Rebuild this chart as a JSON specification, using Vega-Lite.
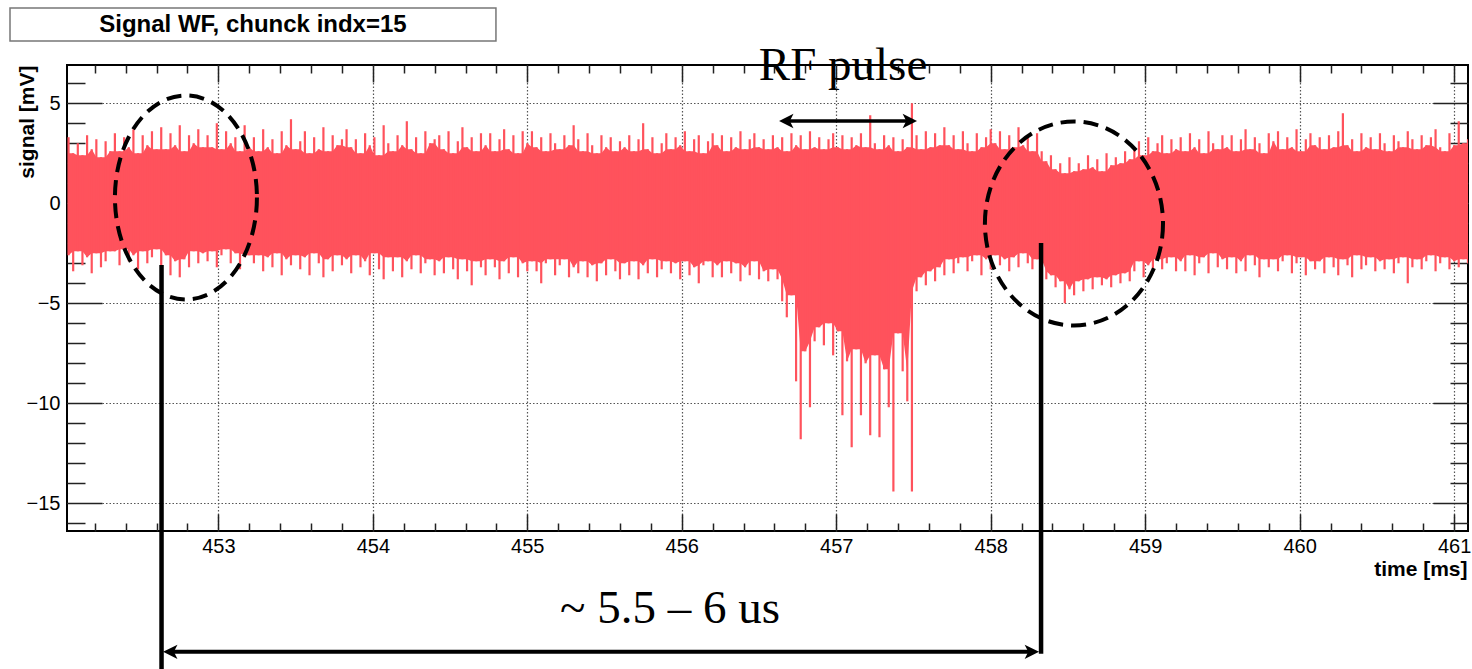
{
  "$schema": "https://vega.github.io/schema/vega-lite/v6.json",
  "width": 1401,
  "height": 466,
  "autosize": {"type": "none"},
  "padding": {"left": 67, "top": 65, "right": 4, "bottom": 138},
  "background": "white",
  "config": {
    "view": {"stroke": "black", "strokeWidth": 2},
    "axis": {
      "labelFont": "Liberation Sans", "labelFontSize": 20, "labelColor": "black",
      "titleFont": "Liberation Sans", "titleFontSize": 21, "titleFontWeight": "bold", "titleColor": "black",
      "tickColor": "#222", "tickWidth": 1.5, "labelOverlap": false, "labelFlush": false, "labelBound": false
    }
  },
  "resolve": {"axis": {"x": "independent", "y": "independent"}},
  "datasets": {
    "wave": [
      {"t":452.03,"hi":3.3,"lo":-2.6},{"t":452.06,"hi":2.5,"lo":-3.4},{"t":452.09,"hi":3.0,"lo":-2.4},{"t":452.12,"hi":2.4,"lo":-3.1},{"t":452.15,"hi":3.4,"lo":-2.7},{"t":452.18,"hi":2.7,"lo":-3.5},{"t":452.21,"hi":3.2,"lo":-2.5},{"t":452.24,"hi":2.3,"lo":-3.2},{"t":452.27,"hi":3.1,"lo":-2.9},{"t":452.30,"hi":2.6,"lo":-2.4},
      {"t":452.33,"hi":3.5,"lo":-2.4},{"t":452.36,"hi":2.6,"lo":-3.1},{"t":452.39,"hi":3.3,"lo":-2.3},{"t":452.42,"hi":2.8,"lo":-2.9},{"t":452.45,"hi":3.7,"lo":-2.6},{"t":452.48,"hi":2.5,"lo":-3.3},{"t":452.51,"hi":3.4,"lo":-2.4},{"t":452.54,"hi":2.9,"lo":-3.0},{"t":452.57,"hi":3.6,"lo":-2.7},{"t":452.60,"hi":2.7,"lo":-2.3},
      {"t":452.63,"hi":3.8,"lo":-3.3},{"t":452.66,"hi":2.7,"lo":-2.6},{"t":452.69,"hi":3.5,"lo":-3.6},{"t":452.72,"hi":2.9,"lo":-2.9},{"t":452.75,"hi":3.9,"lo":-3.7},{"t":452.78,"hi":2.6,"lo":-2.8},{"t":452.81,"hi":3.4,"lo":-3.2},{"t":452.84,"hi":3.0,"lo":-2.4},{"t":452.87,"hi":3.7,"lo":-3.0},{"t":452.90,"hi":2.8,"lo":-2.5},
      {"t":452.93,"hi":3.4,"lo":-2.9},{"t":452.96,"hi":2.8,"lo":-2.4},{"t":452.99,"hi":4.0,"lo":-3.2},{"t":453.02,"hi":2.7,"lo":-2.6},{"t":453.05,"hi":3.6,"lo":-2.3},{"t":453.08,"hi":3.0,"lo":-3.0},{"t":453.11,"hi":3.3,"lo":-2.5},{"t":453.14,"hi":2.6,"lo":-3.3},{"t":453.17,"hi":3.9,"lo":-2.7},{"t":453.20,"hi":2.8,"lo":-2.6},
      {"t":453.23,"hi":3.3,"lo":-3.0},{"t":453.26,"hi":2.6,"lo":-2.6},{"t":453.29,"hi":3.7,"lo":-3.4},{"t":453.32,"hi":2.8,"lo":-2.7},{"t":453.35,"hi":3.2,"lo":-3.2},{"t":453.38,"hi":2.5,"lo":-2.5},{"t":453.41,"hi":3.6,"lo":-3.6},{"t":453.44,"hi":2.9,"lo":-2.8},{"t":453.47,"hi":4.2,"lo":-3.1},{"t":453.50,"hi":2.7,"lo":-2.6},
      {"t":453.53,"hi":3.1,"lo":-3.3},{"t":453.56,"hi":3.6,"lo":-2.7},{"t":453.59,"hi":2.5,"lo":-3.6},{"t":453.62,"hi":3.3,"lo":-2.5},{"t":453.65,"hi":2.7,"lo":-3.0},{"t":453.68,"hi":3.8,"lo":-3.7},{"t":453.71,"hi":2.6,"lo":-2.8},{"t":453.74,"hi":3.4,"lo":-3.4},{"t":453.77,"hi":2.9,"lo":-2.6},{"t":453.80,"hi":3.2,"lo":-3.1},
      {"t":453.83,"hi":3.7,"lo":-2.8},{"t":453.86,"hi":2.8,"lo":-3.5},{"t":453.89,"hi":3.2,"lo":-2.6},{"t":453.92,"hi":2.5,"lo":-3.2},{"t":453.95,"hi":3.5,"lo":-2.9},{"t":453.98,"hi":2.9,"lo":-3.6},{"t":454.01,"hi":3.3,"lo":-2.5},{"t":454.04,"hi":2.4,"lo":-3.3},{"t":454.07,"hi":3.9,"lo":-3.8},{"t":454.10,"hi":3.0,"lo":-2.7},
      {"t":454.13,"hi":2.6,"lo":-3.4},{"t":454.16,"hi":3.4,"lo":-2.7},{"t":454.19,"hi":2.9,"lo":-3.7},{"t":454.22,"hi":4.1,"lo":-2.9},{"t":454.25,"hi":2.7,"lo":-3.3},{"t":454.28,"hi":3.3,"lo":-2.6},{"t":454.31,"hi":2.5,"lo":-3.5},{"t":454.34,"hi":3.6,"lo":-3.0},{"t":454.37,"hi":3.0,"lo":-2.8},{"t":454.40,"hi":3.2,"lo":-3.6},
      {"t":454.43,"hi":3.4,"lo":-2.9},{"t":454.46,"hi":2.7,"lo":-3.5},{"t":454.49,"hi":3.6,"lo":-2.7},{"t":454.52,"hi":2.5,"lo":-3.3},{"t":454.55,"hi":3.1,"lo":-3.8},{"t":454.58,"hi":3.8,"lo":-2.8},{"t":454.61,"hi":2.8,"lo":-3.4},{"t":454.64,"hi":3.3,"lo":-4.1},{"t":454.67,"hi":2.6,"lo":-2.9},{"t":454.70,"hi":3.5,"lo":-3.2},
      {"t":454.73,"hi":2.9,"lo":-3.6},{"t":454.76,"hi":3.5,"lo":-2.8},{"t":454.79,"hi":2.6,"lo":-3.2},{"t":454.82,"hi":3.2,"lo":-3.8},{"t":454.85,"hi":3.7,"lo":-2.9},{"t":454.88,"hi":2.7,"lo":-3.5},{"t":454.91,"hi":3.4,"lo":-2.7},{"t":454.94,"hi":2.5,"lo":-3.7},{"t":454.97,"hi":3.6,"lo":-3.0},{"t":455.00,"hi":3.0,"lo":-3.4},
      {"t":455.03,"hi":3.6,"lo":-2.9},{"t":455.06,"hi":2.8,"lo":-3.4},{"t":455.09,"hi":3.3,"lo":-4.0},{"t":455.12,"hi":2.6,"lo":-3.0},{"t":455.15,"hi":3.5,"lo":-2.8},{"t":455.18,"hi":3.0,"lo":-3.6},{"t":455.21,"hi":2.7,"lo":-3.1},{"t":455.24,"hi":3.4,"lo":-2.8},{"t":455.27,"hi":2.9,"lo":-3.7},{"t":455.30,"hi":3.9,"lo":-3.2},
      {"t":455.33,"hi":3.2,"lo":-3.5},{"t":455.36,"hi":2.6,"lo":-2.9},{"t":455.39,"hi":3.5,"lo":-3.7},{"t":455.42,"hi":2.9,"lo":-3.1},{"t":455.45,"hi":2.5,"lo":-3.9},{"t":455.48,"hi":3.4,"lo":-3.0},{"t":455.51,"hi":2.8,"lo":-3.6},{"t":455.54,"hi":3.3,"lo":-2.8},{"t":455.57,"hi":2.6,"lo":-3.4},{"t":455.60,"hi":3.1,"lo":-3.8},
      {"t":455.63,"hi":2.8,"lo":-3.0},{"t":455.66,"hi":3.4,"lo":-3.6},{"t":455.69,"hi":2.6,"lo":-2.9},{"t":455.72,"hi":3.2,"lo":-3.8},{"t":455.75,"hi":4.0,"lo":-3.1},{"t":455.78,"hi":2.7,"lo":-3.5},{"t":455.81,"hi":3.3,"lo":-2.8},{"t":455.84,"hi":2.5,"lo":-3.7},{"t":455.87,"hi":3.0,"lo":-3.3},{"t":455.90,"hi":3.5,"lo":-2.9},
      {"t":455.93,"hi":2.7,"lo":-3.5},{"t":455.96,"hi":3.3,"lo":-3.0},{"t":455.99,"hi":2.9,"lo":-3.8},{"t":456.02,"hi":3.6,"lo":-2.9},{"t":456.05,"hi":2.6,"lo":-3.6},{"t":456.08,"hi":3.2,"lo":-3.2},{"t":456.11,"hi":3.4,"lo":-4.0},{"t":456.14,"hi":2.5,"lo":-3.1},{"t":456.17,"hi":3.1,"lo":-2.9},{"t":456.20,"hi":3.5,"lo":-3.7},
      {"t":456.23,"hi":2.9,"lo":-3.1},{"t":456.26,"hi":3.4,"lo":-3.7},{"t":456.29,"hi":2.6,"lo":-2.9},{"t":456.32,"hi":3.3,"lo":-3.5},{"t":456.35,"hi":2.8,"lo":-3.0},{"t":456.38,"hi":3.6,"lo":-3.9},{"t":456.41,"hi":2.7,"lo":-3.2},{"t":456.44,"hi":3.2,"lo":-3.6},{"t":456.47,"hi":3.5,"lo":-2.9},{"t":456.50,"hi":2.8,"lo":-3.8},
      {"t":456.53,"hi":3.2,"lo":-3.4},{"t":456.56,"hi":2.7,"lo":-3.9},{"t":456.59,"hi":3.4,"lo":-3.3},{"t":456.62,"hi":2.8,"lo":-3.8},{"t":456.65,"hi":3.3,"lo":-4.9},{"t":456.68,"hi":2.6,"lo":-5.7},{"t":456.71,"hi":3.5,"lo":-4.6},{"t":456.74,"hi":2.9,"lo":-8.9},{"t":456.77,"hi":3.4,"lo":-11.8},{"t":456.80,"hi":2.7,"lo":-7.4},
      {"t":456.83,"hi":3.6,"lo":-10.2},{"t":456.86,"hi":2.8,"lo":-6.9},{"t":456.89,"hi":3.3,"lo":-6.2},{"t":456.92,"hi":2.7,"lo":-7.1},{"t":456.95,"hi":3.2,"lo":-6.0},{"t":456.98,"hi":3.5,"lo":-7.6},{"t":457.01,"hi":2.8,"lo":-6.4},{"t":457.04,"hi":3.4,"lo":-10.6},{"t":457.07,"hi":2.7,"lo":-7.9},{"t":457.10,"hi":3.3,"lo":-12.2},
      {"t":457.13,"hi":2.9,"lo":-7.3},{"t":457.16,"hi":3.5,"lo":-10.6},{"t":457.19,"hi":2.8,"lo":-8.0},{"t":457.22,"hi":4.4,"lo":-11.6},{"t":457.25,"hi":3.0,"lo":-7.6},{"t":457.28,"hi":2.7,"lo":-11.7},{"t":457.31,"hi":3.4,"lo":-8.3},{"t":457.34,"hi":2.9,"lo":-10.2},{"t":457.37,"hi":3.3,"lo":-14.4},{"t":457.40,"hi":2.6,"lo":-6.5},
      {"t":457.43,"hi":3.2,"lo":-8.4},{"t":457.46,"hi":2.8,"lo":-9.9},{"t":457.49,"hi":5.0,"lo":-14.4},{"t":457.52,"hi":3.4,"lo":-4.4},{"t":457.55,"hi":2.7,"lo":-3.7},{"t":457.58,"hi":3.6,"lo":-4.1},{"t":457.61,"hi":2.8,"lo":-3.4},{"t":457.64,"hi":3.5,"lo":-3.9},{"t":457.67,"hi":2.9,"lo":-3.2},{"t":457.70,"hi":3.8,"lo":-3.6},
      {"t":457.73,"hi":2.9,"lo":-2.8},{"t":457.76,"hi":3.4,"lo":-3.5},{"t":457.79,"hi":2.7,"lo":-3.0},{"t":457.82,"hi":3.6,"lo":-2.7},{"t":457.85,"hi":3.0,"lo":-3.4},{"t":457.88,"hi":2.6,"lo":-2.9},{"t":457.91,"hi":3.5,"lo":-2.6},{"t":457.94,"hi":2.8,"lo":-3.6},{"t":457.97,"hi":3.3,"lo":-2.8},{"t":458.00,"hi":3.7,"lo":-3.3},
      {"t":458.03,"hi":3.0,"lo":-2.6},{"t":458.06,"hi":3.6,"lo":-3.1},{"t":458.09,"hi":2.7,"lo":-2.8},{"t":458.12,"hi":3.4,"lo":-3.4},{"t":458.15,"hi":2.8,"lo":-2.7},{"t":458.18,"hi":3.8,"lo":-3.2},{"t":458.21,"hi":2.9,"lo":-2.5},{"t":458.24,"hi":3.3,"lo":-3.0},{"t":458.27,"hi":2.6,"lo":-3.3},{"t":458.30,"hi":3.5,"lo":-2.8},
      {"t":458.33,"hi":2.6,"lo":-3.4},{"t":458.36,"hi":2.1,"lo":-3.8},{"t":458.39,"hi":2.4,"lo":-3.6},{"t":458.42,"hi":1.7,"lo":-4.2},{"t":458.45,"hi":2.0,"lo":-3.9},{"t":458.48,"hi":1.5,"lo":-5.0},{"t":458.51,"hi":2.3,"lo":-4.3},{"t":458.54,"hi":1.6,"lo":-4.6},{"t":458.57,"hi":2.0,"lo":-3.9},{"t":458.60,"hi":1.7,"lo":-4.4},
      {"t":458.63,"hi":2.4,"lo":-3.8},{"t":458.66,"hi":1.8,"lo":-4.3},{"t":458.69,"hi":2.2,"lo":-3.7},{"t":458.72,"hi":1.6,"lo":-4.1},{"t":458.75,"hi":2.5,"lo":-3.8},{"t":458.78,"hi":1.9,"lo":-4.2},{"t":458.81,"hi":2.3,"lo":-3.6},{"t":458.84,"hi":2.0,"lo":-4.0},{"t":458.87,"hi":2.6,"lo":-3.5},{"t":458.90,"hi":2.2,"lo":-3.9},
      {"t":458.93,"hi":2.7,"lo":-3.4},{"t":458.96,"hi":3.1,"lo":-2.9},{"t":458.99,"hi":2.4,"lo":-3.7},{"t":459.02,"hi":3.3,"lo":-3.1},{"t":459.05,"hi":2.6,"lo":-3.5},{"t":459.08,"hi":3.0,"lo":-2.8},{"t":459.11,"hi":3.4,"lo":-3.3},{"t":459.14,"hi":2.5,"lo":-3.0},{"t":459.17,"hi":3.2,"lo":-2.7},{"t":459.20,"hi":2.7,"lo":-3.4},
      {"t":459.23,"hi":3.3,"lo":-2.9},{"t":459.26,"hi":2.6,"lo":-3.4},{"t":459.29,"hi":3.5,"lo":-2.6},{"t":459.32,"hi":2.8,"lo":-3.6},{"t":459.35,"hi":3.2,"lo":-3.0},{"t":459.38,"hi":2.5,"lo":-2.7},{"t":459.41,"hi":3.6,"lo":-3.5},{"t":459.44,"hi":3.0,"lo":-2.5},{"t":459.47,"hi":2.7,"lo":-3.2},{"t":459.50,"hi":3.4,"lo":-2.8},
      {"t":459.53,"hi":2.8,"lo":-3.3},{"t":459.56,"hi":3.4,"lo":-2.7},{"t":459.59,"hi":2.6,"lo":-3.5},{"t":459.62,"hi":3.2,"lo":-2.9},{"t":459.65,"hi":3.7,"lo":-3.4},{"t":459.68,"hi":2.7,"lo":-2.6},{"t":459.71,"hi":3.3,"lo":-3.1},{"t":459.74,"hi":3.0,"lo":-3.7},{"t":459.77,"hi":2.5,"lo":-2.8},{"t":459.80,"hi":3.5,"lo":-3.2},
      {"t":459.83,"hi":3.1,"lo":-2.8},{"t":459.86,"hi":3.6,"lo":-3.4},{"t":459.89,"hi":2.7,"lo":-2.9},{"t":459.92,"hi":3.3,"lo":-2.6},{"t":459.95,"hi":2.8,"lo":-3.5},{"t":459.98,"hi":3.7,"lo":-3.0},{"t":460.01,"hi":2.6,"lo":-2.7},{"t":460.04,"hi":3.2,"lo":-3.6},{"t":460.07,"hi":3.5,"lo":-2.9},{"t":460.10,"hi":2.9,"lo":-3.3},
      {"t":460.13,"hi":3.3,"lo":-2.9},{"t":460.16,"hi":2.7,"lo":-3.5},{"t":460.19,"hi":3.4,"lo":-2.7},{"t":460.22,"hi":2.8,"lo":-3.2},{"t":460.25,"hi":3.6,"lo":-3.6},{"t":460.28,"hi":4.5,"lo":-2.8},{"t":460.31,"hi":2.9,"lo":-3.1},{"t":460.34,"hi":3.2,"lo":-3.7},{"t":460.37,"hi":2.6,"lo":-2.6},{"t":460.40,"hi":3.5,"lo":-3.3},
      {"t":460.43,"hi":2.8,"lo":-3.1},{"t":460.46,"hi":3.3,"lo":-2.7},{"t":460.49,"hi":2.7,"lo":-3.4},{"t":460.52,"hi":3.5,"lo":-2.9},{"t":460.55,"hi":3.0,"lo":-3.3},{"t":460.58,"hi":2.6,"lo":-2.8},{"t":460.61,"hi":3.4,"lo":-3.5},{"t":460.64,"hi":3.1,"lo":-3.0},{"t":460.67,"hi":2.8,"lo":-2.7},{"t":460.70,"hi":3.6,"lo":-4.0},
      {"t":460.73,"hi":3.2,"lo":-3.2},{"t":460.76,"hi":2.7,"lo":-2.8},{"t":460.79,"hi":3.4,"lo":-3.3},{"t":460.82,"hi":2.9,"lo":-2.9},{"t":460.85,"hi":3.3,"lo":-2.6},{"t":460.88,"hi":3.7,"lo":-3.4},{"t":460.91,"hi":2.8,"lo":-3.0},{"t":460.94,"hi":2.6,"lo":-2.7},{"t":460.97,"hi":3.5,"lo":-3.3},{"t":461.00,"hi":2.9,"lo":-2.9},
      {"t":461.03,"hi":4.1,"lo":-3.2},{"t":461.06,"hi":3.0,"lo":-2.8},{"t":461.09,"hi":3.2,"lo":-3.0}
    ]
  },
  "layer": [
    {
      "data": {"name": "wave"},
      "transform": [
        {"window": [{"op": "min", "field": "hi", "as": "chi"}, {"op": "max", "field": "lo", "as": "clo"}], "frame": [-1, 1], "sort": [{"field": "t"}]}
      ],
      "mark": {"type": "area", "color": "#ff525c", "interpolate": "linear", "clip": true},
      "encoding": {
        "x": {
          "field": "t", "type": "quantitative",
          "scale": {"domain": [452.02, 461.09], "nice": false, "zero": false},
          "axis": {
            "orient": "bottom", "title": "time [ms]",
            "values": [452.2,452.4,452.6,452.8,453,453.2,453.4,453.6,453.8,454,454.2,454.4,454.6,454.8,455,455.2,455.4,455.6,455.8,456,456.2,456.4,456.6,456.8,457,457.2,457.4,457.6,457.8,458,458.2,458.4,458.6,458.8,459,459.2,459.4,459.6,459.8,460,460.2,460.4,460.6,460.8,461],
            "labelExpr": "abs(datum.value - round(datum.value)) < 0.01 ? format(datum.value, 'd') : ''",
            "tickSize": {"condition": {"test": "abs(datum.value - round(datum.value)) < 0.01", "value": -17}, "value": -8},
            "labelPadding": 22,
            "grid": true, "gridColor": "#555", "gridDash": [1.5, 2], "gridWidth": 1.2,
            "gridOpacity": {"condition": {"test": "abs(datum.value - round(datum.value)) < 0.01", "value": 1}, "value": 0},
            "domain": false,
            "titleAnchor": "end", "titleAlign": "right", "titleBaseline": "alphabetic", "titleX": 1400, "titleY": 44
          }
        },
        "y": {
          "field": "chi", "type": "quantitative",
          "scale": {"domain": [-16.38, 6.91], "nice": false, "zero": false},
          "axis": {
            "orient": "left", "title": "signal [mV]",
            "values": [-16,-15,-14,-13,-12,-11,-10,-9,-8,-7,-6,-5,-4,-3,-2,-1,0,1,2,3,4,5,6],
            "labelExpr": "datum.value % 5 === 0 ? datum.label : ''",
            "tickSize": {"condition": {"test": "datum.value % 5 === 0", "value": -35}, "value": -18},
            "labelPadding": 42,
            "grid": true, "gridColor": "#555", "gridDash": [1.5, 2], "gridWidth": 1.2,
            "gridOpacity": {"condition": {"test": "datum.value % 5 === 0", "value": 1}, "value": 0},
            "domain": false,
            "titleAnchor": "end", "titleAlign": "right", "titleBaseline": "alphabetic", "titleAngle": 270, "titleX": -34, "titleY": 0
          }
        },
        "y2": {"field": "clo"}
      }
    },
    {
      "data": {"name": "wave"},
      "mark": {"type": "rule", "color": "#ff525c", "strokeWidth": 2.2, "clip": true},
      "encoding": {
        "x": {
          "field": "t", "type": "quantitative",
          "scale": {"domain": [452.02, 461.09], "nice": false, "zero": false},
          "axis": {
            "orient": "top", "title": null, "labels": false, "grid": false, "domain": false,
            "values": [452.2,452.4,452.6,452.8,453,453.2,453.4,453.6,453.8,454,454.2,454.4,454.6,454.8,455,455.2,455.4,455.6,455.8,456,456.2,456.4,456.6,456.8,457,457.2,457.4,457.6,457.8,458,458.2,458.4,458.6,458.8,459,459.2,459.4,459.6,459.8,460,460.2,460.4,460.6,460.8,461],
            "tickSize": {"condition": {"test": "abs(datum.value - round(datum.value)) < 0.01", "value": -17}, "value": -8}
          }
        },
        "y": {
          "field": "hi", "type": "quantitative",
          "scale": {"domain": [-16.38, 6.91], "nice": false, "zero": false},
          "axis": {
            "orient": "right", "title": null, "labels": false, "grid": false, "domain": false,
            "values": [-16,-15,-14,-13,-12,-11,-10,-9,-8,-7,-6,-5,-4,-3,-2,-1,0,1,2,3,4,5,6],
            "tickSize": {"condition": {"test": "datum.value % 5 === 0", "value": -35}, "value": -18}
          }
        },
        "y2": {"field": "lo"}
      }
    },
    {
      "data": {"values": [{}]},
      "mark": {"type": "rect", "fill": "white", "stroke": "#777", "strokeWidth": 1.5},
      "encoding": {
        "x": {"datum": 451.651, "type": "quantitative", "axis": null},
        "x2": {"datum": 454.797},
        "y": {"datum": 9.76, "type": "quantitative", "axis": null},
        "y2": {"datum": 8.11}
      }
    },
    {
      "data": {"values": [{}]},
      "mark": {"type": "text", "text": "Signal WF, chunck indx=15", "font": "Liberation Sans", "fontWeight": "bold", "fontSize": 24, "align": "center", "baseline": "middle", "color": "black"},
      "encoding": {
        "x": {"datum": 453.224, "type": "quantitative", "axis": null},
        "y": {"datum": 8.91, "type": "quantitative", "axis": null}
      }
    },
    {
      "data": {"values": [{}]},
      "mark": {"type": "point", "shape": "M 0.696 0 C 0.696 0.5523 0.3844 1 0 1 C -0.3844 1 -0.696 0.5523 -0.696 0 C -0.696 -0.5523 -0.3844 -1 0 -1 C 0.3844 -1 0.696 -0.5523 0.696 0 Z", "size": 41616, "filled": false, "stroke": "black", "strokeWidth": 4, "strokeDash": [15, 8], "opacity": 1},
      "encoding": {
        "x": {"datum": 452.79, "type": "quantitative", "axis": null},
        "y": {"datum": 0.29, "type": "quantitative", "axis": null}
      }
    },
    {
      "data": {"values": [{}]},
      "mark": {"type": "point", "shape": "M 0.873 0 C 0.873 0.5523 0.4822 1 0 1 C -0.4822 1 -0.873 0.5523 -0.873 0 C -0.873 -0.5523 -0.4822 -1 0 -1 C 0.4822 -1 0.873 -0.5523 0.873 0 Z", "size": 41616, "filled": false, "stroke": "black", "strokeWidth": 4, "strokeDash": [15, 8], "opacity": 1},
      "encoding": {
        "x": {"datum": 458.539, "type": "quantitative", "axis": null},
        "y": {"datum": -1.01, "type": "quantitative", "axis": null}
      }
    },
    {
      "data": {"values": [{}]},
      "mark": {"type": "rule", "color": "black", "strokeWidth": 3.5},
      "encoding": {
        "x": {"datum": 456.68, "type": "quantitative", "axis": null},
        "x2": {"datum": 457.473},
        "y": {"datum": 4.11, "type": "quantitative", "axis": null}
      }
    },
    {
      "data": {"values": [{}]},
      "mark": {"type": "point", "shape": "M 0 0 L 1.8 -0.9 L 1.35 0 L 1.8 0.9 Z", "size": 256, "filled": true, "color": "black", "opacity": 1},
      "encoding": {
        "x": {"datum": 456.63, "type": "quantitative", "axis": null},
        "y": {"datum": 4.11, "type": "quantitative", "axis": null}
      }
    },
    {
      "data": {"values": [{}]},
      "mark": {"type": "point", "shape": "M 0 0 L -1.8 -0.9 L -1.35 0 L -1.8 0.9 Z", "size": 256, "filled": true, "color": "black", "opacity": 1},
      "encoding": {
        "x": {"datum": 457.523, "type": "quantitative", "axis": null},
        "y": {"datum": 4.11, "type": "quantitative", "axis": null}
      }
    },
    {
      "data": {"values": [{}]},
      "mark": {"type": "text", "text": "RF pulse", "font": "Liberation Serif", "fontSize": 47, "align": "center", "baseline": "alphabetic", "color": "black"},
      "encoding": {
        "x": {"datum": 457.044, "type": "quantitative", "axis": null},
        "y": {"datum": 6.16, "type": "quantitative", "axis": null}
      }
    },
    {
      "data": {"values": [{}]},
      "mark": {"type": "rule", "color": "black", "strokeWidth": 4.5},
      "encoding": {
        "x": {"datum": 452.632, "type": "quantitative", "axis": null},
        "y": {"datum": -3.08, "type": "quantitative", "axis": null},
        "y2": {"datum": -23.5}
      }
    },
    {
      "data": {"values": [{}]},
      "mark": {"type": "rule", "color": "black", "strokeWidth": 4.5},
      "encoding": {
        "x": {"datum": 458.326, "type": "quantitative", "axis": null},
        "y": {"datum": -1.99, "type": "quantitative", "axis": null},
        "y2": {"datum": -22.52}
      }
    },
    {
      "data": {"values": [{}]},
      "mark": {"type": "rule", "color": "black", "strokeWidth": 4},
      "encoding": {
        "x": {"datum": 452.69, "type": "quantitative", "axis": null},
        "x2": {"datum": 458.26},
        "y": {"datum": -22.42, "type": "quantitative", "axis": null}
      }
    },
    {
      "data": {"values": [{}]},
      "mark": {"type": "point", "shape": "M 0 0 L 1.8 -0.9 L 1.35 0 L 1.8 0.9 Z", "size": 256, "filled": true, "color": "black", "opacity": 1},
      "encoding": {
        "x": {"datum": 452.642, "type": "quantitative", "axis": null},
        "y": {"datum": -22.42, "type": "quantitative", "axis": null}
      }
    },
    {
      "data": {"values": [{}]},
      "mark": {"type": "point", "shape": "M 0 0 L -1.8 -0.9 L -1.35 0 L -1.8 0.9 Z", "size": 256, "filled": true, "color": "black", "opacity": 1},
      "encoding": {
        "x": {"datum": 458.313, "type": "quantitative", "axis": null},
        "y": {"datum": -22.42, "type": "quantitative", "axis": null}
      }
    },
    {
      "data": {"values": [{}]},
      "mark": {"type": "text", "text": "~ 5.5 – 6 us", "font": "Liberation Serif", "fontSize": 47, "align": "center", "baseline": "alphabetic", "color": "black"},
      "encoding": {
        "x": {"datum": 455.924, "type": "quantitative", "axis": null},
        "y": {"datum": -20.97, "type": "quantitative", "axis": null}
      }
    }
  ]
}
